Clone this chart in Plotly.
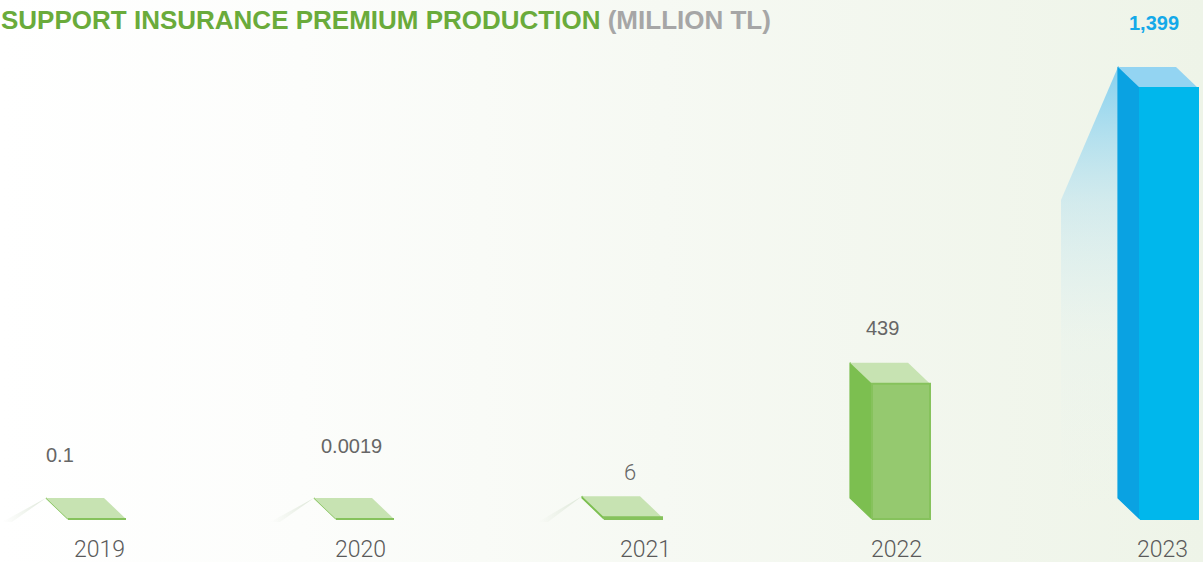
import plotly.graph_objects as go

# ---- data -------------------------------------------------------------
years = ["2019", "2020", "2021", "2022", "2023"]
premiums = [0.1, 0.0019, 6, 439, 1399]          # million TL
value_labels = ["0.1", "0.0019", "6", "439", "1,399"]

# ---- canvas / axis scaling ---------------------------------------------
W, H = 1203, 562
STEP_PX = 268          # pixels between neighbouring years
FIRST_PX = 97          # pixel position of the first year
BASE_PX = 43           # baseline distance from the bottom edge
PX_PER_UNIT = 431 / 1399

x0 = -FIRST_PX / STEP_PX
x_range = [x0, x0 + W / STEP_PX]
y0 = -BASE_PX / PX_PER_UNIT
y_range = [y0, y0 + H / PX_PER_UNIT]

ux = (x_range[1] - x_range[0]) / W   # data units per pixel, x
uy = (y_range[1] - y_range[0]) / H   # data units per pixel, y

half_w = 29 * ux        # half width of the front face
dx, dy = -22 * ux, 21 * uy   # depth offset of the box (up and to the left)

# ---- styles -------------------------------------------------------------
front_col = ["#95c96f"] * 4 + ["#00b7ec"]
edge_col = ["#86c25c"] * 4 + ["#00b7ec"]
side_col = ["#7cbf50"] * 4 + ["#0aa2e2"]
top_col = ["#c7e3b2"] * 4 + ["#93d4f2"]
label_dx = [-37, -14, -3, -19, -15]
label_dy = [43, 52, 24, 35, 44]
year_dx = [2, -5, 12, -5, -7]
label_font = [
    dict(family="Liberation Sans, Arial", size=20, color="#666666"),
    dict(family="Liberation Sans, Arial", size=20, color="#666666"),
    dict(family="Roboto", size=22, color="#666666", weight=300),
    dict(family="Liberation Sans, Arial", size=20, color="#666666"),
    dict(family="Liberation Sans, Arial", size=20, color="#14a9e9", weight="bold"),
]


def poly(xs, ys, **kw):
    """Closed filled polygon in data coordinates."""
    return go.Scatter(x=list(xs) + [xs[0]], y=list(ys) + [ys[0]],
                      mode="lines", fill="toself", hoverinfo="skip",
                      showlegend=False, **kw)


fig = go.Figure()

# soft page background
fig.add_trace(poly(
    [x_range[0], x_range[1], x_range[1], x_range[0]],
    [y_range[0], y_range[0], y_range[1], y_range[1]],
    line=dict(width=0),
    fillgradient=dict(type="horizontal",
                      colorscale=[[0, "#ffffff"], [0.25, "#fcfdfb"],
                                  [0.55, "#f6f9f3"], [1, "#eef4e8"]])))

for i, v in enumerate(premiums):
    xl, xr = i - half_w, i + half_w
    bx, by = xl + dx, v + dy          # back-left-top corner

    if i == len(premiums) - 1:
        # light glow falling from the tallest bar
        fig.add_trace(poly(
            [bx, bx - 57 * ux, bx - 57 * ux, bx],
            [by, by - 133 * uy, 0, dy],
            line=dict(width=0),
            fillgradient=dict(type="vertical",
                              colorscale=[[0, "rgba(225,240,244,0)"],
                                          [0.4, "rgba(210,235,244,0.12)"],
                                          [0.7, "rgba(175,222,240,0.45)"],
                                          [1, "rgba(115,202,240,0.85)"]])))
    elif v < 50:
        # faint streak beside the flat boxes
        fig.add_trace(poly(
            [bx, bx - 44 * ux, bx - 34 * ux],
            [by, -3 * uy, -3 * uy],
            line=dict(width=0),
            fillgradient=dict(type="horizontal",
                              colorscale=[[0, "rgba(225,232,220,0)"],
                                          [1, "rgba(205,220,198,0.7)"]])))

    # left side face
    fig.add_trace(poly([xl, xl, bx, bx], [0, v, by, dy],
                       line=dict(width=1.2, color=side_col[i]),
                       fillcolor=side_col[i]))
    # top face
    fig.add_trace(poly([xl, xr, xr + dx, bx], [v, v, by, by],
                       line=dict(width=0), fillcolor=top_col[i]))
    # front face
    fig.add_trace(poly([xl, xr, xr, xl], [0, 0, v, v],
                       line=dict(width=2, color=edge_col[i]),
                       fillcolor=front_col[i]))

annotations = []
for i, v in enumerate(premiums):
    annotations.append(dict(
        x=i, y=v + dy, xref="x", yref="y", text=value_labels[i],
        showarrow=False, xanchor="center", yanchor="middle",
        xshift=label_dx[i], yshift=label_dy[i], font=label_font[i]))
    annotations.append(dict(
        x=i, y=0, xref="x", yref="y", text=years[i],
        showarrow=False, xanchor="center", yanchor="middle",
        xshift=year_dx[i], yshift=-30,
        font=dict(family="Roboto", size=23, color="#5a5a5a", weight=300)))

annotations.append(dict(
    x=0, y=1, xref="paper", yref="paper", xanchor="left", yanchor="top",
    xshift=-1, yshift=-3, showarrow=False,
    text="<b>SUPPORT INSURANCE PREMIUM PRODUCTION "
         "<span style='color:#a6a6a6'>(MILLION TL)</span></b>",
    font=dict(family="Liberation Sans, Arial", size=26, color="#6aab3b")))

fig.update_layout(
    width=W, height=H,
    margin=dict(l=0, r=0, t=0, b=0),
    paper_bgcolor="#ffffff", plot_bgcolor="#ffffff",
    xaxis=dict(range=x_range, visible=False, fixedrange=True),
    yaxis=dict(range=y_range, visible=False, fixedrange=True),
    annotations=annotations,
)

fig.write_html("out.html")
